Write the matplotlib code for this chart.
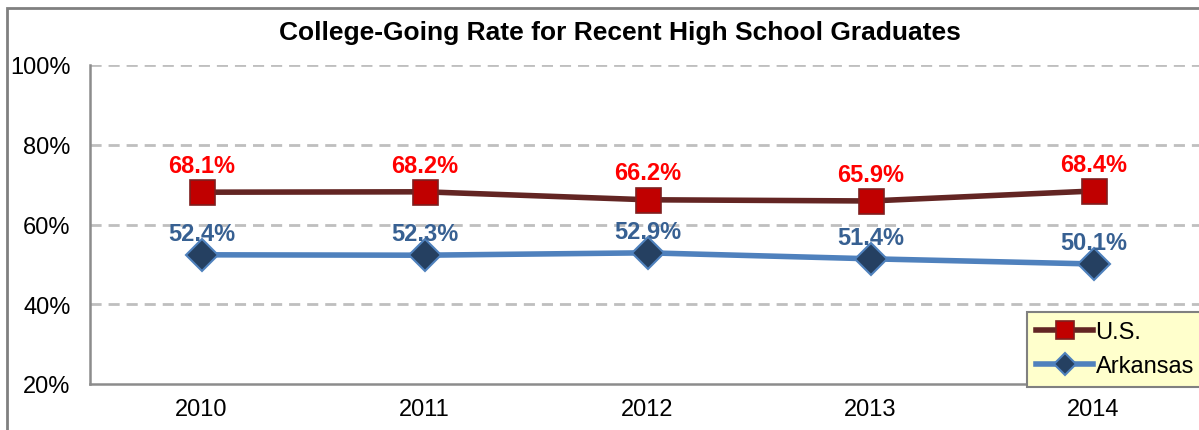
import matplotlib.pyplot as plt
from matplotlib.patches import Rectangle

plt.rcParams['font.family'] = ['Liberation Sans', 'DejaVu Sans']

years = ['2010', '2011', '2012', '2013', '2014']
us = [68.1, 68.2, 66.2, 65.9, 68.4]
arkansas = [52.4, 52.3, 52.9, 51.4, 50.1]
yticks = [20, 40, 60, 80, 100]

W, H = 1199, 431
fig = plt.figure(figsize=(W / 100, H / 100), dpi=100)

# plot area (pixels): left 90, right 1205, top 66, bottom 385
ax = fig.add_axes([90 / W, 1 - 385 / H, (1205 - 90) / W, (385 - 66) / H])
x = list(range(len(years)))

ax.plot(x, us, color='#632523', lw=4, marker='s', ms=18,
        mfc='#C00000', mec='#7F1F1F', mew=1.2, label='U.S.', zorder=3)
ax.plot(x, arkansas, color='#4F81BD', lw=4, marker='D', ms=16,
        mfc='#254061', mec='#4F81BD', mew=1.5, label='Arkansas', zorder=3)

for i in x:
    ax.annotate(f'{us[i]:.1f}%', (i, us[i]), xytext=(0, 11), textcoords='offset points',
                ha='center', va='bottom', color='#FF0000', fontsize=17, fontweight='bold')
    ax.annotate(f'{arkansas[i]:.1f}%', (i, arkansas[i]), xytext=(0, 7), textcoords='offset points',
                ha='center', va='bottom', color='#376092', fontsize=17, fontweight='bold')

ax.set_xlim(-0.5, len(years) - 0.5)
ax.set_ylim(20, 100)
ax.set_xticks(x)
ax.set_xticklabels(years)
ax.set_yticks(yticks)
ax.set_yticklabels([f'{v}%' for v in yticks])
ax.tick_params(length=0, labelsize=17, pad=14)
ax.tick_params(axis='x', pad=10)

for v in yticks[1:]:
    ax.axhline(v, color='#BFBFBF', lw=2, ls=(0, (4, 2.5)), zorder=1)
for s in ['top', 'right']:
    ax.spines[s].set_visible(False)
for s in ['left', 'bottom']:
    ax.spines[s].set_color('#8C8C8C')
    ax.spines[s].set_linewidth(1.8)

leg = ax.legend(loc='upper left', bbox_to_anchor=(1027 / W, 1 - 313 / H),
                bbox_transform=fig.transFigure, borderaxespad=0, fontsize=17,
                frameon=True, fancybox=False, handlelength=2.4, handletextpad=0.1,
                labelspacing=0.5, borderpad=0.4, markerscale=0.7)
leg.get_frame().set_facecolor('#FFFFCC')
leg.get_frame().set_edgecolor('#808080')
leg.get_frame().set_linewidth(1.5)
leg.get_frame().set_alpha(1)

fig.text(620 / W, 1 - 33 / H, 'College-Going Rate for Recent High School Graduates',
         ha='center', va='center', fontsize=19, fontweight='bold')

fig.patches.append(Rectangle((7 / W, -0.1), 1.2, 1 - 9 / H + 0.1, transform=fig.transFigure,
                             fill=False, edgecolor='#808080', lw=2))

fig.savefig('out.png', dpi=100)
